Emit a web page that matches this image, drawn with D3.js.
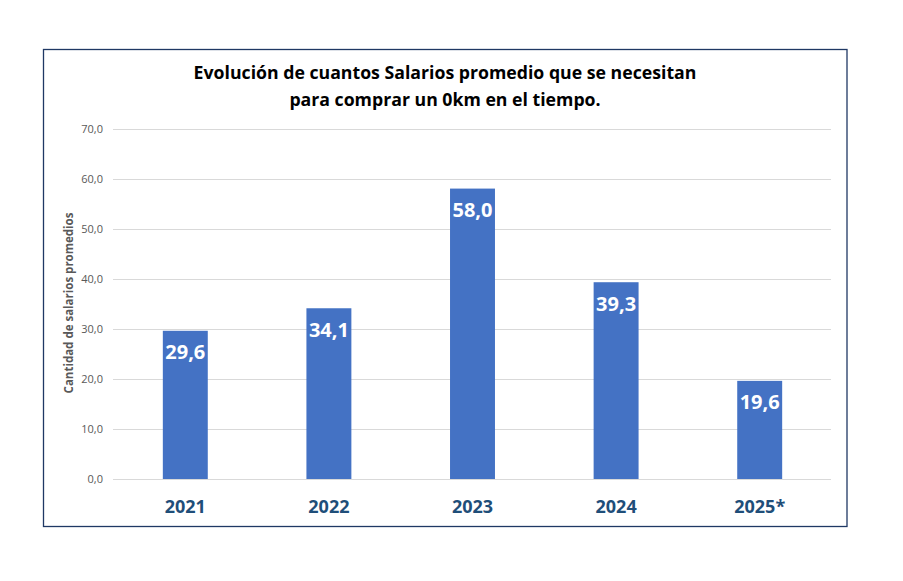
<!DOCTYPE html>
<html><head><meta charset="utf-8">
<script src="https://cdn.jsdelivr.net/npm/d3@7"></script>
<style>body{margin:0;background:#fff}svg{display:block}</style>
</head><body>
<svg id="c" width="903" height="581"></svg>
<script>
const categories = ["2021","2022","2023","2024","2025*"];
const values = [29.6, 34.1, 58.0, 39.3, 19.6];
const yTicks = [0,10,20,30,40,50,60,70];
const titleLines = ["Evolución de cuantos Salarios promedio que se necesitan","para comprar un 0km en el tiempo."];
const yTitle = "Cantidad de salarios promedios";

const svg = d3.select("#c");
const font = "'Open Sans', 'Liberation Sans', sans-serif";
const fmt = v => v.toFixed(1).replace(".", ",");

svg.append("rect").attr("x",43.5).attr("y",49.5).attr("width",803.5).attr("height",477)
  .attr("fill","#fff").attr("stroke","#1f3864").attr("stroke-width",1.3);

const x = d3.scaleBand().domain(categories).range([113.5,831.5]).paddingInner(0.687).paddingOuter(0.3435);
const y = d3.scaleLinear().domain([0,70]).range([479,128.5]);

svg.append("g").selectAll("line").data(yTicks).join("line")
  .attr("x1",113).attr("x2",831).attr("y1",d=>Math.round(y(d))+0.5).attr("y2",d=>Math.round(y(d))+0.5)
  .attr("stroke","#d9d9d9").attr("stroke-width",1);

const yAxis = d3.axisLeft(y).tickValues(yTicks).tickFormat(fmt).tickSize(0).tickPadding(10);
const ga = svg.append("g").attr("transform","translate(113,0)").call(yAxis);
ga.select(".domain").remove();
ga.selectAll("text").attr("fill","#595959").style("font-family",font).style("font-size","11px");

svg.append("g").selectAll("rect").data(values).join("rect")
  .attr("x",(d,i)=>x(categories[i])).attr("width",x.bandwidth())
  .attr("y",d=>y(d)).attr("height",d=>y(0)-y(d)).attr("fill","#4472c4");

svg.append("g").selectAll("text").data(values).join("text")
  .attr("x",(d,i)=>x(categories[i])+x.bandwidth()/2).attr("y",d=>y(d)+28.5)
  .attr("text-anchor","middle").attr("fill","#fff").style("font-family",font)
  .style("font-weight","bold").style("font-size","20px").text(fmt);

const xAxis = d3.axisBottom(x).tickSize(0).tickPadding(0);
const gx = svg.append("g").attr("transform","translate(0,479)").call(xAxis);
gx.select(".domain").remove();
gx.selectAll("text").attr("dy",null).attr("y",34).attr("fill","#1f4e79")
  .style("font-family",font).style("font-weight","bold").style("font-size","18px");

svg.append("text").attr("transform","translate(73,303) rotate(-90)").attr("text-anchor","middle")
  .attr("fill","#595959").style("font-family",font).style("font-weight","bold").style("font-size","11.5px").text(yTitle);

svg.append("g").selectAll("text").data(titleLines).join("text")
  .attr("x",445).attr("y",(d,i)=>79+i*27).attr("text-anchor","middle").attr("fill","#000")
  .style("font-family",font).style("font-weight","bold").style("font-size","17.7px").text(d=>d);
</script>
</body></html>
